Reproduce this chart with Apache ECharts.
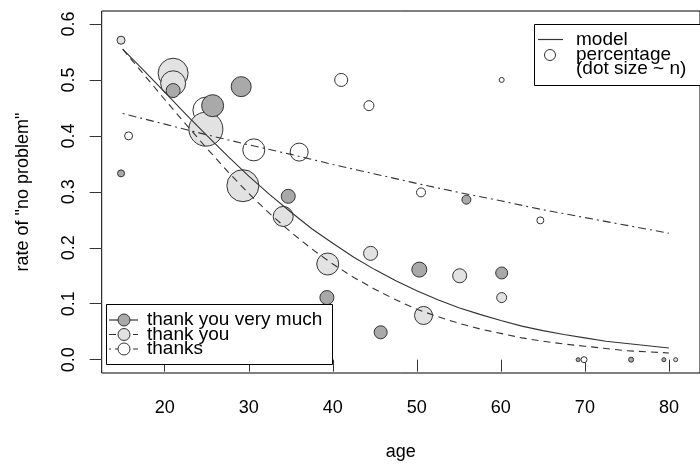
<!DOCTYPE html>
<html>
<head>
<meta charset="utf-8">
<script src="https://cdn.jsdelivr.net/npm/echarts@6/dist/echarts.min.js"></script>
<style>html,body{margin:0;padding:0;background:#fff;}#c{width:700px;height:466px;}</style>
</head>
<body>
<div id="c"></div>
<script>
// ---- data ----
const xTicks = [20, 30, 40, 50, 60, 70, 80];
const yTicks = [0, 0.1, 0.2, 0.3, 0.4, 0.5, 0.6];

// "thank you very much" observed rates (dot size ~ n)
const tyvmAge  = [14.8, 21.0, 25.7, 29.1, 34.7, 39.3, 45.7, 50.3, 55.9, 60.1, 69.2, 75.5, 79.4];
const tyvmRate = [0.333, 0.481, 0.454, 0.488, 0.292, 0.111, 0.049, 0.161, 0.286, 0.155, 0, 0, 0];
const tyvmN    = [7, 14, 22, 20, 14, 14, 13, 15, 9, 12, 4, 5, 4];

// "thank you"
const tyAge  = [14.8, 21.0, 21.0, 24.9, 29.3, 34.1, 39.4, 44.5, 50.8, 55.1, 60.1, 80.8];
const tyRate = [0.571, 0.512, 0.494, 0.412, 0.311, 0.256, 0.171, 0.19, 0.079, 0.15, 0.111, 0];
const tyN    = [8, 30, 25, 34, 32, 20, 22, 14, 18, 14, 10, 4];

// "thanks"
const thAge  = [15.7, 24.9, 30.6, 36.0, 41.0, 44.3, 50.5, 60.1, 64.7, 69.9];
const thRate = [0.4, 0.446, 0.375, 0.371, 0.5, 0.454, 0.299, 0.5, 0.249, 0];
const thN    = [8, 26, 22, 18, 13, 10, 9, 5, 7, 6];

// model curves
const curveAge   = [15, 17.5, 20, 22.5, 25, 27.5, 30, 32.5, 35, 37.5, 40, 42.5, 45, 47.5, 50,
                    52.5, 55, 57.5, 60, 62.5, 65, 67.5, 70, 72.5, 75, 77.5, 80];
const modelTyvm  = [0.555, 0.517, 0.478, 0.439, 0.401, 0.364, 0.328, 0.295, 0.264, 0.234, 0.208, 0.183, 0.161, 0.141, 0.123,
                    0.107, 0.093, 0.081, 0.070, 0.060, 0.052, 0.045, 0.039, 0.033, 0.029, 0.025, 0.021];
const modelTy    = [0.555, 0.510, 0.465, 0.421, 0.378, 0.336, 0.297, 0.261, 0.228, 0.198, 0.171, 0.147, 0.126, 0.107, 0.090,
                    0.077, 0.065, 0.055, 0.047, 0.039, 0.033, 0.028, 0.024, 0.020, 0.016, 0.014, 0.012];
const thanksAge  = [15, 20, 25, 30, 35, 40, 45, 50, 55, 60, 65, 70, 75, 80];
const modelThanks= [0.440, 0.421, 0.402, 0.384, 0.367, 0.349, 0.332, 0.315, 0.299, 0.284, 0.268, 0.254, 0.240, 0.226];

// ---- chart ----
const FONT = '"Liberation Sans", Arial, sans-serif';
const DARK = '#a9a9a9', LIGHT = '#e2e2e2', WHITE = '#ffffff', EDGE = '#333333';
const LINEC = '#333333';
const DASH = [7, 5];
const DOTDASH = [2, 4, 8, 4];

function pts(a, r, n) { return a.map((v, i) => [v, r[i], n[i]]); }
function curve(a, r) { return a.map((v, i) => [v, r[i]]); }
function scatter(name, data, fill) {
  return {
    name, type: 'scatter', data, symbol: 'circle',
    symbolSize: v => v[2],
    itemStyle: { color: fill, borderColor: EDGE, borderWidth: 1, opacity: 1 },
    emphasis: { disabled: true }, silent: true, z: 2
  };
}
function line(name, data, dash) {
  return {
    name, type: 'line', data, showSymbol: false, smooth: false,
    lineStyle: { color: LINEC, width: 1.1, type: dash },
    silent: true, z: 3
  };
}

const chart = echarts.init(document.getElementById('c'), null, { renderer: 'canvas' });

const legendRows = [
  { y: 320, fill: DARK, dash: 'solid', text: 'thank you very much' },
  { y: 334.5, fill: LIGHT, dash: DASH, text: 'thank you' },
  { y: 349, fill: WHITE, dash: DOTDASH, text: 'thanks' }
];
const graphics = [
  { type: 'rect', shape: { x: 106.5, y: 304.5, width: 226, height: 60 },
    style: { fill: '#fff', stroke: '#000', lineWidth: 1 }, z: 10 },
  { type: 'rect', shape: { x: 534.5, y: 24.5, width: 200, height: 61 },
    style: { fill: '#fff', stroke: '#000', lineWidth: 1 }, z: 10 },
  { type: 'line', shape: { x1: 538, y1: 39.5, x2: 563, y2: 39.5 },
    style: { stroke: LINEC, lineWidth: 1.2 }, z: 11 },
  { type: 'circle', shape: { cx: 550, cy: 55, r: 5.5 },
    style: { fill: '#fff', stroke: EDGE, lineWidth: 1 }, z: 11 },
  { type: 'text', x: 576, y: 40, style: { text: 'model', font: '19px ' + FONT, fill: '#000', verticalAlign: 'middle' }, z: 11 },
  { type: 'text', x: 576, y: 54.5, style: { text: 'percentage', font: '19px ' + FONT, fill: '#000', verticalAlign: 'middle' }, z: 11 },
  { type: 'text', x: 576, y: 69, style: { text: '(dot size ~ n)', font: '19px ' + FONT, fill: '#000', verticalAlign: 'middle' }, z: 11 }
];
legendRows.forEach(r => {
  graphics.push({ type: 'line', shape: { x1: 109, y1: r.y, x2: 138, y2: r.y },
    style: { stroke: LINEC, lineWidth: 1.2, lineDash: r.dash === 'solid' ? null : r.dash }, z: 11 });
  graphics.push({ type: 'circle', shape: { cx: 124, cy: r.y, r: 6 },
    style: { fill: r.fill, stroke: EDGE, lineWidth: 1 }, z: 12 });
  graphics.push({ type: 'text', x: 147, y: r.y, style: { text: r.text, font: '19px ' + FONT, fill: '#000', verticalAlign: 'middle' }, z: 12 });
});

chart.setOption({
  animation: false,
  backgroundColor: '#fff',
  grid: { left: 101.7, top: 11, right: -12.2, bottom: 92.7, show: true, borderColor: '#000', borderWidth: 1, backgroundColor: 'transparent' },
  xAxis: {
    type: 'value', min: 12.5, max: 83.7,
    name: 'age', nameLocation: 'middle', nameGap: 70,
    nameTextStyle: { fontFamily: FONT, fontSize: 18, color: '#000' },
    splitLine: { show: false },
    axisLine: { show: false },
    axisTick: { show: true, inside: false, length: 12, customValues: xTicks, lineStyle: { color: '#333', width: 1 } },
    axisLabel: { customValues: xTicks, margin: 26, fontFamily: FONT, fontSize: 18, color: '#000' }
  },
  yAxis: {
    type: 'value', min: -0.0238, max: 0.6232,
    name: 'rate of "no problem"', nameLocation: 'middle', nameGap: 70, nameRotate: 90,
    nameTextStyle: { fontFamily: FONT, fontSize: 18, color: '#000' },
    splitLine: { show: false },
    axisLine: { show: false },
    axisTick: { show: true, inside: false, length: 12, customValues: yTicks, lineStyle: { color: '#333', width: 1 } },
    axisLabel: { customValues: yTicks, rotate: 90, margin: 24, fontFamily: FONT, fontSize: 18, color: '#000',
      formatter: v => v.toFixed(1) }
  },
  series: [
    scatter('thanks', pts(thAge, thRate, thN), WHITE),
    scatter('thank you', pts(tyAge, tyRate, tyN), LIGHT),
    scatter('thank you very much', pts(tyvmAge, tyvmRate, tyvmN), DARK),
    line('model tyvm', curve(curveAge, modelTyvm), 'solid'),
    line('model ty', curve(curveAge, modelTy), DASH),
    line('model thanks', curve(thanksAge, modelThanks), DOTDASH)
  ],
  graphic: graphics
});
</script>
</body>
</html>
